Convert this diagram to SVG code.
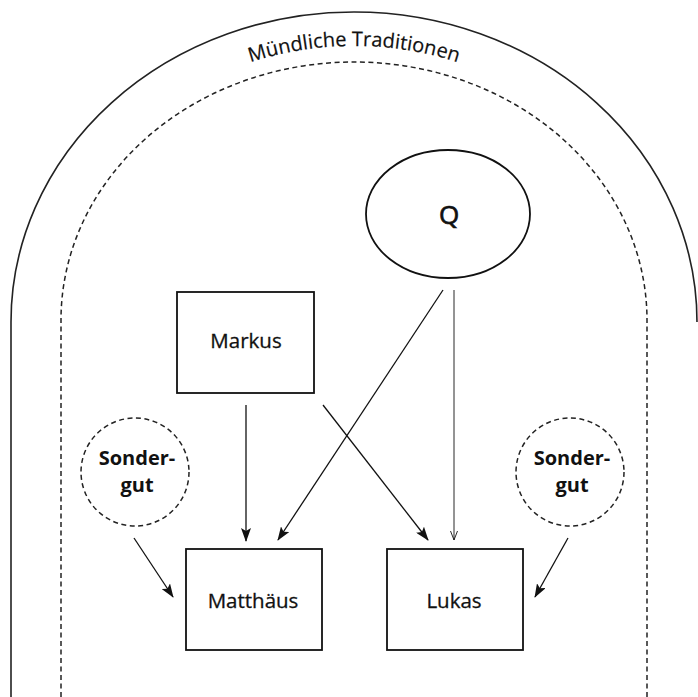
<svg xmlns="http://www.w3.org/2000/svg" width="698" height="697" viewBox="0 0 698 697">
<defs>
<style>
.box{fill:#fff;stroke:#111;stroke-width:1.8}
.lbl{font-family:"Open Sans","Liberation Sans",sans-serif;font-size:20.5px;fill:#111;stroke:#111;stroke-width:0.3;text-anchor:middle}
.sg{font-family:"Open Sans","Liberation Sans",sans-serif;font-size:20px;font-weight:bold;fill:#111;text-anchor:middle}
.dash{fill:none;stroke:#222;stroke-width:1.5;stroke-dasharray:5 3.5}
.arr{fill:none;stroke:#111;stroke-width:1.3;marker-end:url(#ah)}
.thin{fill:none;stroke:#111;stroke-width:0.9;marker-end:url(#ahs)}
</style>
<marker id="ah" markerUnits="userSpaceOnUse" markerWidth="14" markerHeight="10" refX="13" refY="5" orient="auto">
<path d="M0,0 L14,5 L0,10 L3,5 z" fill="#111"/>
</marker>
<marker id="ahs" markerUnits="userSpaceOnUse" markerWidth="10" markerHeight="8" refX="9" refY="4" orient="auto">
<path d="M0,0.5 L9,4 L0,7.5" fill="none" stroke="#111" stroke-width="0.9"/>
</marker>
<path id="tp" d="M 48 322 A 306 276 0 0 1 660 322"/>
</defs>
<g id="outer">
<path d="M 11 697 L 11 322 A 343 310 0 0 1 697 322" fill="none" stroke="#222" stroke-width="1.6"/>
<path class="dash" d="M 61 697 L 61 320 A 293 258 0 0 1 647 320 L 647 697"/>
<text font-family="'Open Sans','Liberation Sans',sans-serif" font-size="20" fill="#111" stroke="#111" stroke-width="0.2" text-anchor="middle"><textPath href="#tp" startOffset="50%">Mündliche Traditionen</textPath></text>
</g>
<g id="connectors">
<line class="arr" x1="246" y1="405" x2="246" y2="541"/>
<line class="arr" x1="323" y1="405" x2="428" y2="540"/>
<line class="arr" x1="443" y1="290" x2="278" y2="540"/>
<line class="thin" x1="454" y1="290" x2="454" y2="540"/>
<line class="arr" x1="134" y1="538" x2="173" y2="597"/>
<line class="arr" x1="568" y1="538" x2="535" y2="597"/>
</g>
<g id="Q">
<ellipse cx="448" cy="214" rx="82" ry="64" fill="#fff" stroke="#111" stroke-width="1.8"/>
<text class="lbl" x="449" y="224" style="font-size:26px;stroke-width:0.7">Q</text>
</g>
<g id="Markus">
<rect class="box" x="177" y="292" width="137" height="101"/>
<text class="lbl" x="246" y="348">Markus</text>
</g>
<g id="Matthaeus">
<rect class="box" x="186" y="549" width="136" height="101"/>
<text class="lbl" x="253" y="608">Matthäus</text>
</g>
<g id="Lukas">
<rect class="box" x="387" y="549" width="136" height="101"/>
<text class="lbl" x="454" y="608">Lukas</text>
</g>
<g id="Sondergut-links">
<circle class="dash" cx="135" cy="472" r="54"/>
<text class="sg" x="137" y="465">Sonder-</text>
<text class="sg" x="137" y="492">gut</text>
</g>
<g id="Sondergut-rechts">
<circle class="dash" cx="570" cy="472" r="54"/>
<text class="sg" x="572" y="465">Sonder-</text>
<text class="sg" x="572" y="492">gut</text>
</g>
</svg>
